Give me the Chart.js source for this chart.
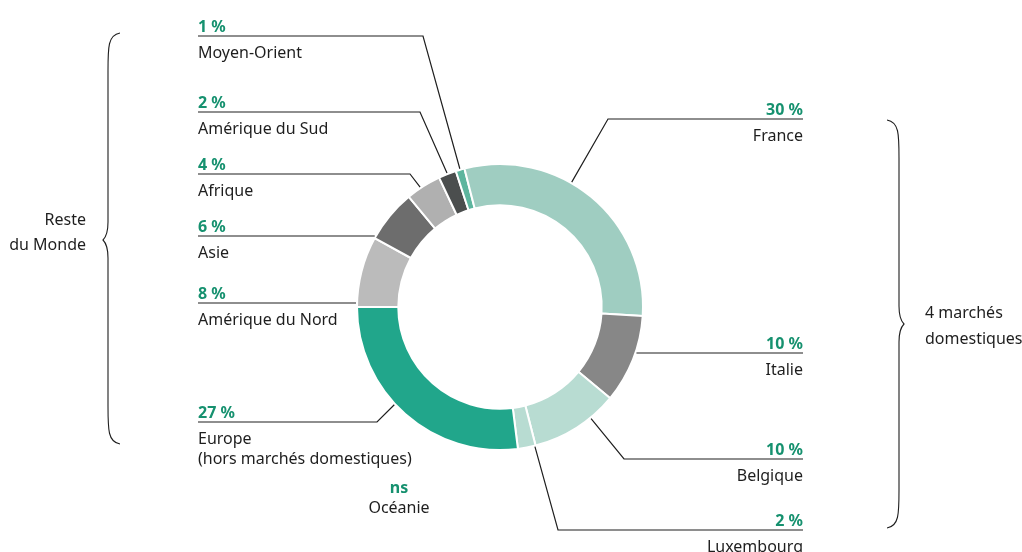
<!DOCTYPE html>
<html>
<head>
<meta charset="utf-8">
<script src="https://cdn.jsdelivr.net/npm/chart.js@4.4.1/dist/chart.umd.min.js"></script>
<style>
  html, body { margin: 0; padding: 0; background: #fff; }
  #wrap { width: 1022px; height: 552px; }
</style>
</head>
<body>
<div id="wrap"><canvas id="chartRegions" width="1022" height="552"></canvas></div>
<script>
// ── Data (clockwise from 9 o'clock) ──
const regions     = ['Amérique du Nord', 'Asie', 'Afrique', 'Amérique du Sud', 'Moyen-Orient',
                     'France', 'Italie', 'Belgique', 'Luxembourg', 'Océanie',
                     ['Europe', '(hors marchés domestiques)']];
const shares      = [8, 6, 4, 2, 1, 30, 10, 10, 2, 0, 27];
const shareLabels = ['8 %', '6 %', '4 %', '2 %', '1 %', '30 %', '10 %', '10 %', '2 %', 'ns', '27 %'];
const groupNames  = [['Reste', 'du Monde'], ['4 marchés', 'domestiques']];

const colors = ['#bbbbbb', '#6d6d6d', '#b0b0b0', '#4b4e4e', '#5db59e',
                '#9fcdc1', '#878787', '#b8dcd2', '#b8dcd2', '#b8dcd2', '#21a68b'];

// ── Label layout (positions only) ──
const leaders = [
  { side: 'L', x: 198, lineY: 303, flat: true },
  { side: 'L', x: 198, lineY: 236, flat: true },
  { side: 'L', x: 198, lineY: 174, elbow: 410, at: 0.41 },
  { side: 'L', x: 198, lineY: 112, elbow: 420, at: 0.5 },
  { side: 'L', x: 198, lineY: 36,  elbow: 423, at: 0.5 },
  { side: 'R', x: 803, lineY: 119, elbow: 608, at: 0.41 },
  { side: 'R', x: 803, lineY: 353, flat: true },
  { side: 'R', x: 803, lineY: 459, elbow: 624, at: 0.31 },
  { side: 'R', x: 803, lineY: 530, elbow: 558, at: 0.05 },
  { side: 'C', x: 399, y: 493 },
  { side: 'L', x: 198, lineY: 422, elbow: 377, at: 0.56 }
];

const green = '#16916f';
const ink   = '#1e1e1e';
const FONT  = '"Noto Sans", sans-serif';

function drawBrace(ctx, tip, dir, top, bottom, mid) {
  const spine = tip + dir * 12;
  const point = tip + dir * 17;
  ctx.beginPath();
  ctx.moveTo(tip, top);
  ctx.bezierCurveTo(spine, top + 2, spine, top + 14, spine, top + 38);
  ctx.lineTo(spine, mid - 18);
  ctx.bezierCurveTo(spine, mid - 6, point - dir * 2, mid - 2, point, mid);
  ctx.bezierCurveTo(point - dir * 2, mid + 2, spine, mid + 6, spine, mid + 18);
  ctx.lineTo(spine, bottom - 38);
  ctx.bezierCurveTo(spine, bottom - 14, spine, bottom - 2, tip, bottom);
  ctx.stroke();
}

const annotations = {
  id: 'annotations',
  afterDraw(chart) {
    const ctx = chart.ctx;
    const arcs = chart.getDatasetMeta(0).data;
    ctx.save();
    ctx.lineWidth = 1.2;
    ctx.strokeStyle = ink;

    leaders.forEach((L, i) => {
      const arc = arcs[i];
      const R = arc.outerRadius + 1;
      const names = Array.isArray(regions[i]) ? regions[i] : [regions[i]];

      if (L.side === 'C') {
        ctx.textAlign = 'center';
        ctx.font = 'bold 16px ' + FONT;
        ctx.fillStyle = green;
        ctx.fillText(shareLabels[i], L.x, L.y);
        ctx.font = '16px ' + FONT;
        ctx.fillStyle = ink;
        ctx.fillText(names[0], L.x, L.y + 20);
        return;
      }

      // anchor on the outer edge of the ring
      let ax, ay;
      if (L.flat) {
        const dy = L.lineY - arc.y;
        const dx = Math.sqrt(Math.max(R * R - dy * dy, 0));
        ax = arc.x + (L.side === 'L' ? -dx : dx);
        ay = L.lineY;
      } else {
        const a = arc.startAngle + L.at * (arc.endAngle - arc.startAngle);
        ax = arc.x + R * Math.cos(a);
        ay = arc.y + R * Math.sin(a);
      }

      ctx.beginPath();
      ctx.moveTo(L.x, L.lineY);
      if (!L.flat) ctx.lineTo(L.elbow, L.lineY);
      ctx.lineTo(ax, ay);
      ctx.stroke();

      ctx.textAlign = L.side === 'L' ? 'left' : 'right';
      ctx.textBaseline = 'alphabetic';
      ctx.font = 'bold 16px ' + FONT;
      ctx.fillStyle = green;
      ctx.fillText(shareLabels[i], L.x, L.lineY - 4);
      ctx.font = '16px ' + FONT;
      ctx.fillStyle = ink;
      names.forEach((n, k) => ctx.fillText(n, L.x, L.lineY + 22 + k * 20));
    });

    // group braces
    ctx.lineWidth = 1.1;
    drawBrace(ctx, 120, -1, 33, 444, 240);
    drawBrace(ctx, 887, 1, 120, 528, 324);

    ctx.font = '16px ' + FONT;
    ctx.fillStyle = ink;
    ctx.textAlign = 'right';
    ctx.fillText(groupNames[0][0], 86, 225);
    ctx.fillText(groupNames[0][1], 86, 250);
    ctx.textAlign = 'left';
    ctx.fillText(groupNames[1][0], 925, 318);
    ctx.fillText(groupNames[1][1], 925, 344);
    ctx.restore();
  }
};

new Chart(document.getElementById('chartRegions'), {
  type: 'doughnut',
  data: {
    labels: regions,
    datasets: [{
      data: shares,
      backgroundColor: colors,
      borderColor: '#ffffff',
      borderWidth: 2,
      hoverOffset: 0
    }]
  },
  options: {
    responsive: false,
    animation: false,
    rotation: -90,
    radius: 143,
    cutout: 101,
    layout: { padding: { left: 357, right: 379, top: 164, bottom: 102 } },
    plugins: { legend: { display: false }, tooltip: { enabled: false } }
  },
  plugins: [annotations]
});
</script>
</body>
</html>
